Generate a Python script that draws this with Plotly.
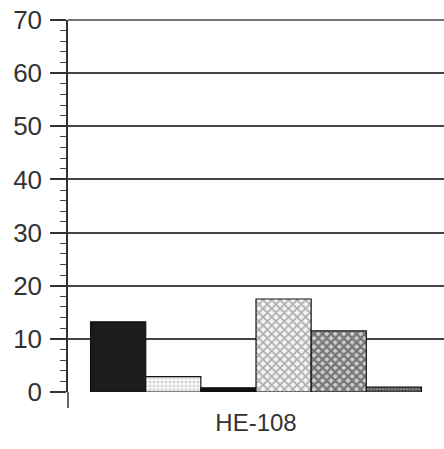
import plotly.graph_objects as go

categories = ["HE-108"]
series_names = ["S1", "S2", "S3", "S4", "S5", "S6"]
series_values = [[13.2], [2.9], [0.8], [17.5], [11.5], [0.9]]
y_tick_values = [0, 10, 20, 30, 40, 50, 60, 70]

styles = [
    dict(color="#1c1c1c", pattern=dict(shape="")),
    dict(color="#ffffff", pattern=dict(shape="+", fgcolor="#777777", bgcolor="#ffffff", size=4, solidity=0.3)),
    dict(color="#111111", pattern=dict(shape="")),
    dict(color="#dddddd", pattern=dict(shape="x", fgcolor="#666666", bgcolor="#f4f4f4", size=6, solidity=0.5)),
    dict(color="#444444", pattern=dict(shape="x", fgcolor="#1e1e1e", bgcolor="#d0d0d0", size=6, solidity=0.65)),
    dict(color="#444444", pattern=dict(shape="+", fgcolor="#1e1e1e", bgcolor="#808080", size=3, solidity=0.5)),
]

fig = go.Figure()
for name, vals, st in zip(series_names, series_values, styles):
    fig.add_trace(go.Bar(
        x=categories, y=vals, name=name,
        marker=dict(color=st["color"], pattern=st["pattern"],
                    line=dict(color="#111111", width=1.2)),
        showlegend=False,
    ))

font_family = "Liberation Sans, Arial, sans-serif"
fig.update_layout(
    width=444, height=449,
    margin=dict(l=68, r=0, t=20, b=57),
    paper_bgcolor="white", plot_bgcolor="white",
    barmode="group", bargap=0.12, bargroupgap=0,
    font=dict(family=font_family, color="#333333"),
    xaxis=dict(
        automargin=False,
        showgrid=False, zeroline=False, showline=False, ticks="",
        tickfont=dict(size=24, color="#333333"),
        ticklabelstandoff=14,
    ),
    yaxis=dict(
        automargin=False,
        range=[0, 70], tickvals=y_tick_values,
        showgrid=True, gridcolor="#444444", gridwidth=1.5,
        zeroline=False, showline=True, linecolor="#333333", linewidth=1.5,
        ticks="outside", ticklen=16, tickwidth=1.5, tickcolor="#333333",
        tickfont=dict(size=26, color="#333333"),
        ticklabelstandoff=3,
        minor=dict(dtick=2, tick0=0, ticks="outside", ticklen=6, tickwidth=1, tickcolor="#444444", showgrid=False),
    ),
    shapes=[
        dict(type="line", xref="paper", yref="paper", x0=0, x1=0, y0=-16/372, y1=0,
             line=dict(color="#333333", width=1.5)),
        dict(type="line", xref="paper", yref="paper", x0=0, x1=1, y0=1, y1=1,
             line=dict(color="#444444", width=1.5)),
    ],
)

fig.write_html("out.html", config={"displayModeBar": False},
               post_script="document.body.style.margin='0';document.body.style.overflow='hidden';")
